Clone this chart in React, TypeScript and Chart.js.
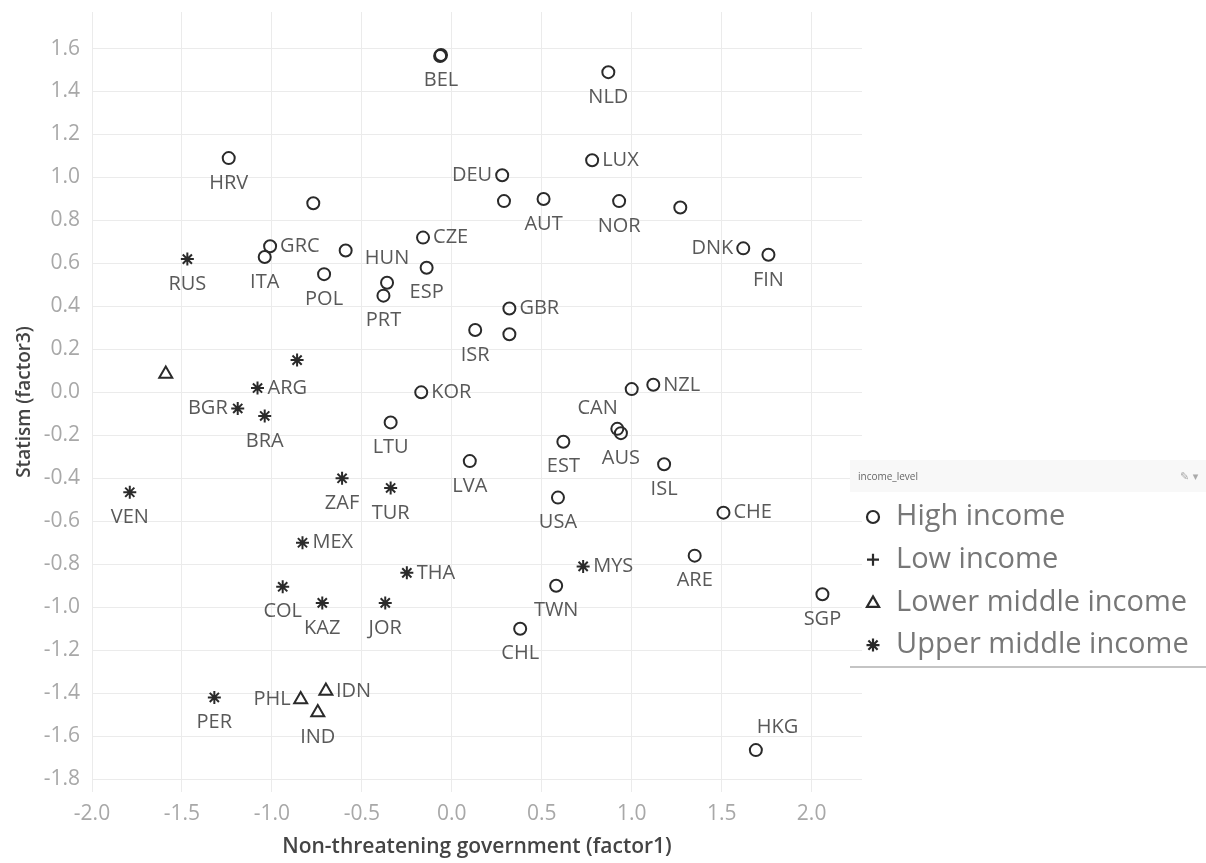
import React, { useEffect, useRef } from 'react';
import { Chart, registerables } from 'chart.js';

Chart.register(...registerables);

// ---- Data ----
const incomeLevels = ['High income', 'Low income', 'Lower middle income', 'Upper middle income'];

const highCodes = ['HRV', '', 'GRC', 'ITA', '', 'POL', 'HUN', 'PRT', 'BEL', '', 'NLD', 'LUX', 'DEU', '', 'AUT', 'NOR', '', 'DNK', 'FIN', 'CZE', 'ESP', 'GBR', 'ISR', '', 'KOR', 'CAN', 'NZL', '', 'AUS', 'EST', 'LVA', 'ISL', 'USA', 'CHE', 'ARE', 'TWN', 'SGP', 'LTU', 'CHL', 'HKG'];
const highX = [-1.24, -0.77, -1.01, -1.04, -0.59, -0.71, -0.36, -0.38, -0.06, -0.065, 0.87, 0.78, 0.28, 0.29, 0.51, 0.93, 1.27, 1.62, 1.76, -0.16, -0.14, 0.32, 0.13, 0.32, -0.17, 1.0, 1.12, 0.92, 0.94, 0.62, 0.1, 1.18, 0.59, 1.51, 1.35, 0.58, 2.06, -0.34, 0.38, 1.69];
const highY = [1.09, 0.88, 0.68, 0.63, 0.66, 0.55, 0.51, 0.45, 1.57, 1.565, 1.49, 1.08, 1.01, 0.89, 0.9, 0.89, 0.86, 0.67, 0.64, 0.72, 0.58, 0.39, 0.29, 0.27, 0.0, 0.015, 0.035, -0.17, -0.19, -0.23, -0.32, -0.335, -0.49, -0.56, -0.76, -0.9, -0.94, -0.14, -1.1, -1.665];

const lowCodes: string[] = [];
const lowX: number[] = [];
const lowY: number[] = [];

const lowerMidCodes = ['', 'PHL', 'IDN', 'IND'];
const lowerMidX = [-1.59, -0.84, -0.7, -0.745];
const lowerMidY = [0.085, -1.43, -1.39, -1.49];

const upperMidCodes = ['RUS', '', 'ARG', 'BGR', 'BRA', 'VEN', 'ZAF', 'TUR', 'MEX', 'COL', 'KAZ', 'JOR', 'THA', 'MYS', 'PER'];
const upperMidX = [-1.47, -0.86, -1.08, -1.19, -1.04, -1.79, -0.61, -0.34, -0.83, -0.94, -0.72, -0.37, -0.25, 0.73, -1.32];
const upperMidY = [0.62, 0.15, 0.02, -0.075, -0.11, -0.465, -0.4, -0.445, -0.7, -0.905, -0.98, -0.98, -0.84, -0.81, -1.42];

const xTicks = [-2.0, -1.5, -1.0, -0.5, 0.0, 0.5, 1.0, 1.5, 2.0];
const yTicks = [-1.8, -1.6, -1.4, -1.2, -1.0, -0.8, -0.6, -0.4, -0.2, 0.0, 0.2, 0.4, 0.6, 0.8, 1.0, 1.2, 1.4, 1.6];

// label placement keywords (b = below, t = above, r = right, l = left, bl = below-left, tr = above-right)
const labelPlacement: Record<string, string> = {
  HRV: 'b', GRC: 'r', ITA: 'b', POL: 'b', HUN: 't', PRT: 'b', BEL: 'b', NLD: 'b', LUX: 'r', DEU: 'l',
  AUT: 'b', NOR: 'b', DNK: 'l', FIN: 'b', CZE: 'r', ESP: 'b', GBR: 'r', ISR: 'b', KOR: 'r', CAN: 'bl',
  NZL: 'r', AUS: 'b', EST: 'b', LVA: 'b', ISL: 'b', USA: 'b', CHE: 'r', ARE: 'b', TWN: 'b', SGP: 'b',
  LTU: 'b', CHL: 'b', HKG: 'tr', RUS: 'b', ARG: 'r', BGR: 'l', BRA: 'b', VEN: 'b', ZAF: 'b', TUR: 'b',
  MEX: 'r', COL: 'b', KAZ: 'b', JOR: 'b', THA: 'r', MYS: 'r', PER: 'b', PHL: 'l', IDN: 'r', IND: 'b',
};

const FONT = '"Open Sans", "Noto Sans", sans-serif';
const MARK = '#2a2a2a';

function build(codes: string[], xs: number[], ys: number[]) {
  return codes.map((c, i) => ({ x: xs[i], y: ys[i], code: c }));
}

function drawMarker(ctx: CanvasRenderingContext2D, style: string, x: number, y: number) {
  ctx.save();
  ctx.strokeStyle = MARK;
  ctx.lineWidth = 2.2;
  ctx.beginPath();
  if (style === 'circle') {
    ctx.arc(x, y, 6, 0, Math.PI * 2);
  } else if (style === 'cross') {
    ctx.moveTo(x - 6, y); ctx.lineTo(x + 6, y);
    ctx.moveTo(x, y - 6); ctx.lineTo(x, y + 6);
  } else if (style === 'triangle') {
    const r = 7;
    for (let k = 0; k < 3; k++) {
      const a = (k * 2 * Math.PI) / 3;
      const px = x + Math.sin(a) * r;
      const py = y + 1 - Math.cos(a) * r;
      if (k === 0) ctx.moveTo(px, py); else ctx.lineTo(px, py);
    }
    ctx.closePath();
  } else if (style === 'star') {
    const r = 6.5;
    for (let k = 0; k < 4; k++) {
      const a = (k * Math.PI) / 4;
      ctx.moveTo(x - Math.sin(a) * r, y - Math.cos(a) * r);
      ctx.lineTo(x + Math.sin(a) * r, y + Math.cos(a) * r);
    }
  }
  ctx.stroke();
  ctx.restore();
}

const pointLabelPlugin = {
  id: 'pointLabels',
  afterDatasetsDraw(chart: any) {
    const ctx = chart.ctx as CanvasRenderingContext2D;
    ctx.save();
    ctx.font = `20px ${FONT}`;
    ctx.fillStyle = '#595959';
    ctx.textBaseline = 'middle';
    chart.data.datasets.forEach((ds: any, i: number) => {
      const meta = chart.getDatasetMeta(i);
      meta.data.forEach((el: any, j: number) => {
        const code = ds.data[j].code;
        if (!code) return;
        const p = labelPlacement[code] || 'b';
        let tx = el.x;
        let ty = el.y;
        if (p === 'b') { ctx.textAlign = 'center'; ty += 25; }
        else if (p === 't') { ctx.textAlign = 'center'; ty -= 24; }
        else if (p === 'r') { ctx.textAlign = 'left'; tx += 10; }
        else if (p === 'l') { ctx.textAlign = 'right'; tx -= 10; }
        else if (p === 'bl') { ctx.textAlign = 'right'; tx -= 14; ty += 19; }
        else if (p === 'tr') { ctx.textAlign = 'left'; tx += 1; ty -= 23; }
        ctx.fillText(code, tx, ty);
      });
    });
    ctx.restore();
  },
};

const legendPlugin = {
  id: 'sideLegend',
  afterDraw(chart: any) {
    const ctx = chart.ctx as CanvasRenderingContext2D;
    ctx.save();
    ctx.fillStyle = '#f8f8f8';
    ctx.fillRect(850, 460, 356, 32);
    ctx.font = `10px ${FONT}`;
    ctx.fillStyle = '#666';
    ctx.textBaseline = 'middle';
    ctx.textAlign = 'left';
    ctx.fillText('income_level', 858, 477);
    ctx.font = '11px "DejaVu Sans"';
    ctx.fillStyle = '#aaa';
    ctx.fillText('\u270E \u25BE', 1180, 477);
    ctx.font = `29px ${FONT}`;
    chart.data.datasets.forEach((ds: any, i: number) => {
      const y = 517 + i * 42.7;
      drawMarker(ctx, ds.pointStyle, 873, y);
      ctx.fillStyle = '#777';
      ctx.fillText(ds.label, 896, y);
    });
    ctx.strokeStyle = '#c4c4c4';
    ctx.lineWidth = 2;
    ctx.beginPath();
    ctx.moveTo(850, 667);
    ctx.lineTo(1206, 667);
    ctx.stroke();
    ctx.restore();
  },
};

export default function App() {
  const ref = useRef<HTMLCanvasElement | null>(null);

  useEffect(() => {
    if (!ref.current) return;
    const common = {
      borderColor: MARK,
      backgroundColor: 'rgba(0,0,0,0)',
      pointBackgroundColor: 'rgba(0,0,0,0)',
      pointBorderColor: MARK,
    };
    const chart = new Chart(ref.current, {
      type: 'scatter',
      data: {
        datasets: [
          { ...common, label: incomeLevels[0], data: build(highCodes, highX, highY), pointStyle: 'circle', pointRadius: 6, pointBorderWidth: 2 },
          { ...common, label: incomeLevels[1], data: build(lowCodes, lowX, lowY), pointStyle: 'cross', pointRadius: 6, pointBorderWidth: 2 },
          { ...common, label: incomeLevels[2], data: build(lowerMidCodes, lowerMidX, lowerMidY), pointStyle: 'triangle', pointRadius: 7.5, pointBorderWidth: 2 },
          { ...common, label: incomeLevels[3], data: build(upperMidCodes, upperMidX, upperMidY), pointStyle: 'star', pointRadius: 6.5, pointBorderWidth: 2 },
        ] as any,
      },
      options: {
        animation: false,
        responsive: false,
        devicePixelRatio: 1,
        layout: { padding: { left: 0, top: 12, right: 344, bottom: 0 } },
        plugins: { legend: { display: false }, tooltip: { enabled: false } },
        scales: {
          x: {
            type: 'linear',
            min: -2.0,
            max: 2.28,
            afterBuildTicks: (axis: any) => { axis.ticks = xTicks.map((v) => ({ value: v })); },
            afterFit: (s: any) => { s.height = 71; s.paddingLeft = 0; s.paddingRight = 0; },
            grid: { color: '#ebebeb', drawTicks: false, lineWidth: 1 },
            border: { display: false },
            ticks: {
              padding: 9,
              color: '#a8a8a8',
              font: { family: FONT, size: 21 },
              callback: (v: any) => Number(v).toFixed(1),
            },
            title: {
              display: true,
              text: 'Non-threatening government (factor1)',
              color: '#444',
              font: { family: FONT, size: 21, weight: '600' },
              padding: { top: 0, bottom: 3 },
            },
          },
          y: {
            type: 'linear',
            min: -1.86,
            max: 1.77,
            afterBuildTicks: (axis: any) => { axis.ticks = yTicks.map((v) => ({ value: v })); },
            afterFit: (s: any) => { s.width = 92; s.paddingTop = 0; s.paddingBottom = 0; },
            grid: { color: '#ebebeb', drawTicks: false, lineWidth: 1 },
            border: { display: false },
            ticks: {
              padding: 12,
              color: '#a8a8a8',
              font: { family: FONT, size: 21 },
              callback: (v: any) => Number(v).toFixed(1),
            },
            title: {
              display: true,
              text: 'Statism (factor3)',
              color: '#444',
              font: { family: FONT, size: 19, weight: '600' },
              padding: { top: 13, bottom: 0 },
            },
          },
        },
      } as any,
      plugins: [pointLabelPlugin, legendPlugin],
    });
    return () => chart.destroy();
  }, []);

  return (
    <div style={{ position: 'fixed', left: 0, top: 0, width: 1206, height: 863, background: '#fff' }}>
      <canvas ref={ref} width={1206} height={863} style={{ display: 'block' }} />
    </div>
  );
}
